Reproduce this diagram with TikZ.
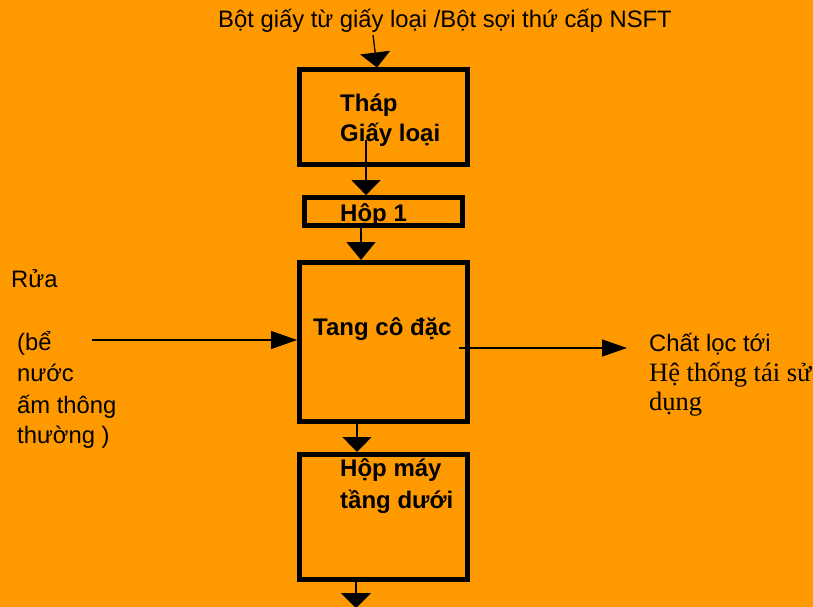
\documentclass[tikz,border=0pt]{standalone}
\usepackage{fontspec}
\setmainfont{Liberation Sans}
\newfontfamily\seriffont{Liberation Serif}
\usetikzlibrary{arrows.meta}
\definecolor{bg}{HTML}{FF9900}
\begin{document}
\begin{tikzpicture}[x=1pt,y=-1pt,
  box/.style={draw=black,line width=5pt,rectangle,inner sep=0pt},
  conn/.style={draw=black,line width=1.3pt,-{Triangle[length=15pt,width=29pt]}},
  side/.style={draw=black,line width=1.3pt,-{Triangle[length=26pt,width=18pt]}},
  lbl/.style={font=\fontsize{24}{30}\selectfont\bfseries,anchor=base west,inner sep=0pt},
  txt/.style={font=\fontsize{23.8}{30}\selectfont,anchor=base west,inner sep=0pt},
  stxt/.style={font=\fontsize{26.5}{30}\selectfont\seriffont,anchor=base west,inner sep=0pt}]
\fill[bg] (0,0) rectangle (813,607);
\useasboundingbox (0,0) rectangle (813,607);

% boxes
\node[box,minimum width=168pt,minimum height=94.5pt] (thap) at (383.5,117.25) {};
\node[box,minimum width=158.5pt,minimum height=28pt] (hop1) at (383.25,211.6) {};
\node[box,minimum width=168pt,minimum height=158.5pt] (tang) at (383.5,341.75) {};
\node[box,minimum width=168pt,minimum height=125pt] (hopmay) at (383.5,517) {};

% texts
\node[txt] (top) at (218,28) {Bột giấy từ giấy loại /Bột sợi thứ cấp NSFT};
\node[lbl] (t1) at (340,111.7) {Tháp};
\node[lbl] (t2) at (340,141.7) {Giấy loại};
\node[lbl] (h1) at (340,221.7) {Hộp 1};
\node[lbl] (tc) at (313,335) {Tang cô đặc};
\node[lbl] (hm1) at (340,476.7) {Hộp máy};
\node[lbl] (hm2) at (340,508.3) {tầng dưới};
\node[txt] (r0) at (11,287) {Rửa};
\node[txt] (r1) at (17,350) {(bể};
\node[txt] (r2) at (17,381.5) {nước};
\node[txt] (r3) at (17,413) {ấm thông};
\node[txt] (r4) at (17,443) {thường )};
\node[txt] (c1) at (649,351.7) {Chất lọc tới};
\node[stxt] (c2) at (649,381.7) {Hệ thống tái sử};
\node[stxt] (c3) at (649,410) {dụng};

% connectors
\coordinate (topsrc) at (373,35);
\draw[conn,-{Triangle[length=15pt,width=30pt]}] (topsrc) -- ([xshift=-6.5pt]thap.north);
\coordinate (thapsrc) at (366,140);
\draw[conn] (thapsrc) -- (thapsrc |- hop1.north);
\draw[conn,-{Triangle[length=18pt,width=29pt]}] ([xshift=-22.25pt]hop1.south) -- ([xshift=-22.5pt]tang.north);
\coordinate (lsrc) at (92,340);
\draw[side] (lsrc) -- (lsrc -| tang.west);
\coordinate (rsrc) at (459,348);
\coordinate (rtip) at (627,348);
\draw[side,-{Triangle[length=25pt,width=17pt]}] (rsrc) -- (rtip);
\draw[conn] ([xshift=-26.5pt]tang.south) -- ([xshift=-26.5pt]hopmay.north);
\coordinate (botend) at (356,608);
\draw[conn,-{Triangle[length=15pt,width=30pt]}] (botend |- hopmay.south) -- (botend);
\end{tikzpicture}
\end{document}
